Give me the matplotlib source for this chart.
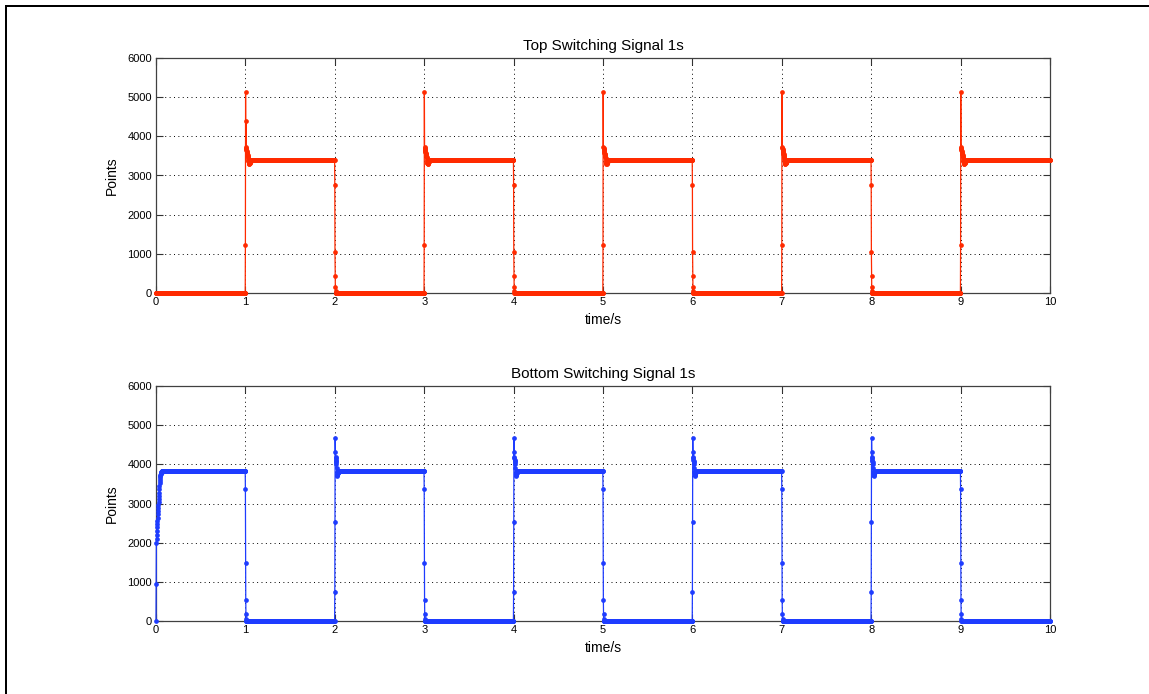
import numpy as np
import matplotlib
matplotlib.use("Agg")
import matplotlib.pyplot as plt
from matplotlib.lines import Line2D

# ---- signal data (sample period 2 ms, 0 .. 10 s) ----
dt = 0.002
t_end = 10.0

top_level = 3400
top_rise_first = [1230, 5120, 3730, 4380, 3700, 3680, 3650, 3620, 3600, 3580,
                  3560, 3540, 3520, 3500, 3470, 3440, 3400, 3360, 3330, 3310,
                  3300, 3300, 3310, 3320, 3330, 3340, 3350, 3360, 3370, 3375,
                  3380, 3385, 3390, 3395]
top_rise = [1230, 5120, 3730, 3700, 3680, 3650, 3620, 3600, 3580, 3560,
            3540, 3520, 3500, 3470, 3440, 3400, 3360, 3330, 3310, 3300,
            3300, 3310, 3320, 3330, 3340, 3350, 3360, 3370, 3375, 3380,
            3385, 3390, 3395]
top_fall = [2750, 1050, 430, 150, 40, 0]
top_high_seconds = [1, 3, 5, 7, 9]

bot_level = 3820
bot_start = [0, 950, 2000, 2100, 2200, 2300, 2400, 2480, 2560, 2640, 2720,
             2800, 2880, 2960, 3040, 3120, 3200, 3280, 3360, 3440, 3520,
             3580, 3630, 3670, 3700, 3730, 3750, 3770, 3785, 3795, 3805,
             3810, 3815]
bot_rise = [740, 2540, 4680, 4320, 4200, 4150, 4100, 4080, 4050, 4000,
            3900, 3800, 3720, 3700, 3720, 3750, 3770, 3790, 3800, 3810, 3815]
bot_fall = [3370, 1470, 530, 180, 50, 0]
bot_high_seconds = [0, 2, 4, 6, 8]

xticks = list(range(0, 11))
yticks = [0, 1000, 2000, 3000, 4000, 5000, 6000]


def build_signal(high_seconds, level, rise_list, fall_list):
    """Assemble the switching waveform second by second."""
    per_sec = int(round(1 / dt))
    n_sec = int(round(t_end))
    parts = []
    for k in range(n_sec):
        if k in high_seconds:
            head = rise_list[k]
            fill = level
        else:
            head = fall_list if (k - 1) in high_seconds else []
            fill = 0
        seg = list(head) + [fill] * (per_sec - len(head))
        parts.extend(seg)
    last = level if (n_sec - 1) in high_seconds else 0
    parts.append(last)
    return np.array(parts, dtype=float)


top_rises = {s: (top_rise_first if s == top_high_seconds[0] else top_rise)
             for s in top_high_seconds}
bot_rises = {s: (bot_start if s == 0 else bot_rise) for s in bot_high_seconds}

top_sig = build_signal(top_high_seconds, top_level, top_rises, top_fall)
bot_sig = build_signal(bot_high_seconds, bot_level, bot_rises, bot_fall)
time = np.arange(len(top_sig)) * dt

# ---- figure ----
plt.rcParams['font.family'] = ['Liberation Sans', 'DejaVu Sans']
W, H = 1149, 694
fig = plt.figure(figsize=(W / 100, H / 100), dpi=100)
fig.patch.set_facecolor('white')


def px_rect(left, top, right, bottom):
    return [left / W, 1 - bottom / H, (right - left) / W, (bottom - top) / H]


panels = [
    (px_rect(156, 58, 1050, 293), time, top_sig, '#ff2a00',
     'Top Switching Signal 1s'),
    (px_rect(156, 386, 1050, 621), time, bot_sig, '#1e3cff',
     'Bottom Switching Signal 1s'),
]

for rect, x, y, color, title in panels:
    ax = fig.add_axes(rect)
    ax.plot(x, y, color=color, linewidth=0.9, marker='o', markersize=3.4,
            markeredgewidth=0, clip_on=False, zorder=3)
    ax.set_xlim(0, 10)
    ax.set_ylim(0, 6000)
    ax.set_xticks(xticks)
    ax.set_yticks(yticks)
    ax.grid(True, color='black', linestyle=(0, (1, 3.5)), linewidth=0.7)
    ax.set_axisbelow(True)
    ax.tick_params(direction='in', length=5, width=0.8, top=True, right=True,
                   labelsize=8, pad=3, colors='#333333', labelcolor='black')
    for sp in ax.spines.values():
        sp.set_color('#404040')
        sp.set_linewidth(0.9)
    ax.set_title(title, fontsize=11, pad=6)
    ax.set_xlabel('time/s', fontsize=10, labelpad=4)
    ax.set_ylabel('Points', fontsize=10, labelpad=6)

# outer frame (left and top edges)
lw = 2 * 72 / 100
fig.add_artist(Line2D([6 / W, 6 / W], [0, 1 - 6 / H], transform=fig.transFigure,
                      color='black', linewidth=lw))
fig.add_artist(Line2D([6 / W, 1], [1 - 6 / H, 1 - 6 / H], transform=fig.transFigure,
                      color='black', linewidth=lw))

fig.savefig('out.png', dpi=100)
